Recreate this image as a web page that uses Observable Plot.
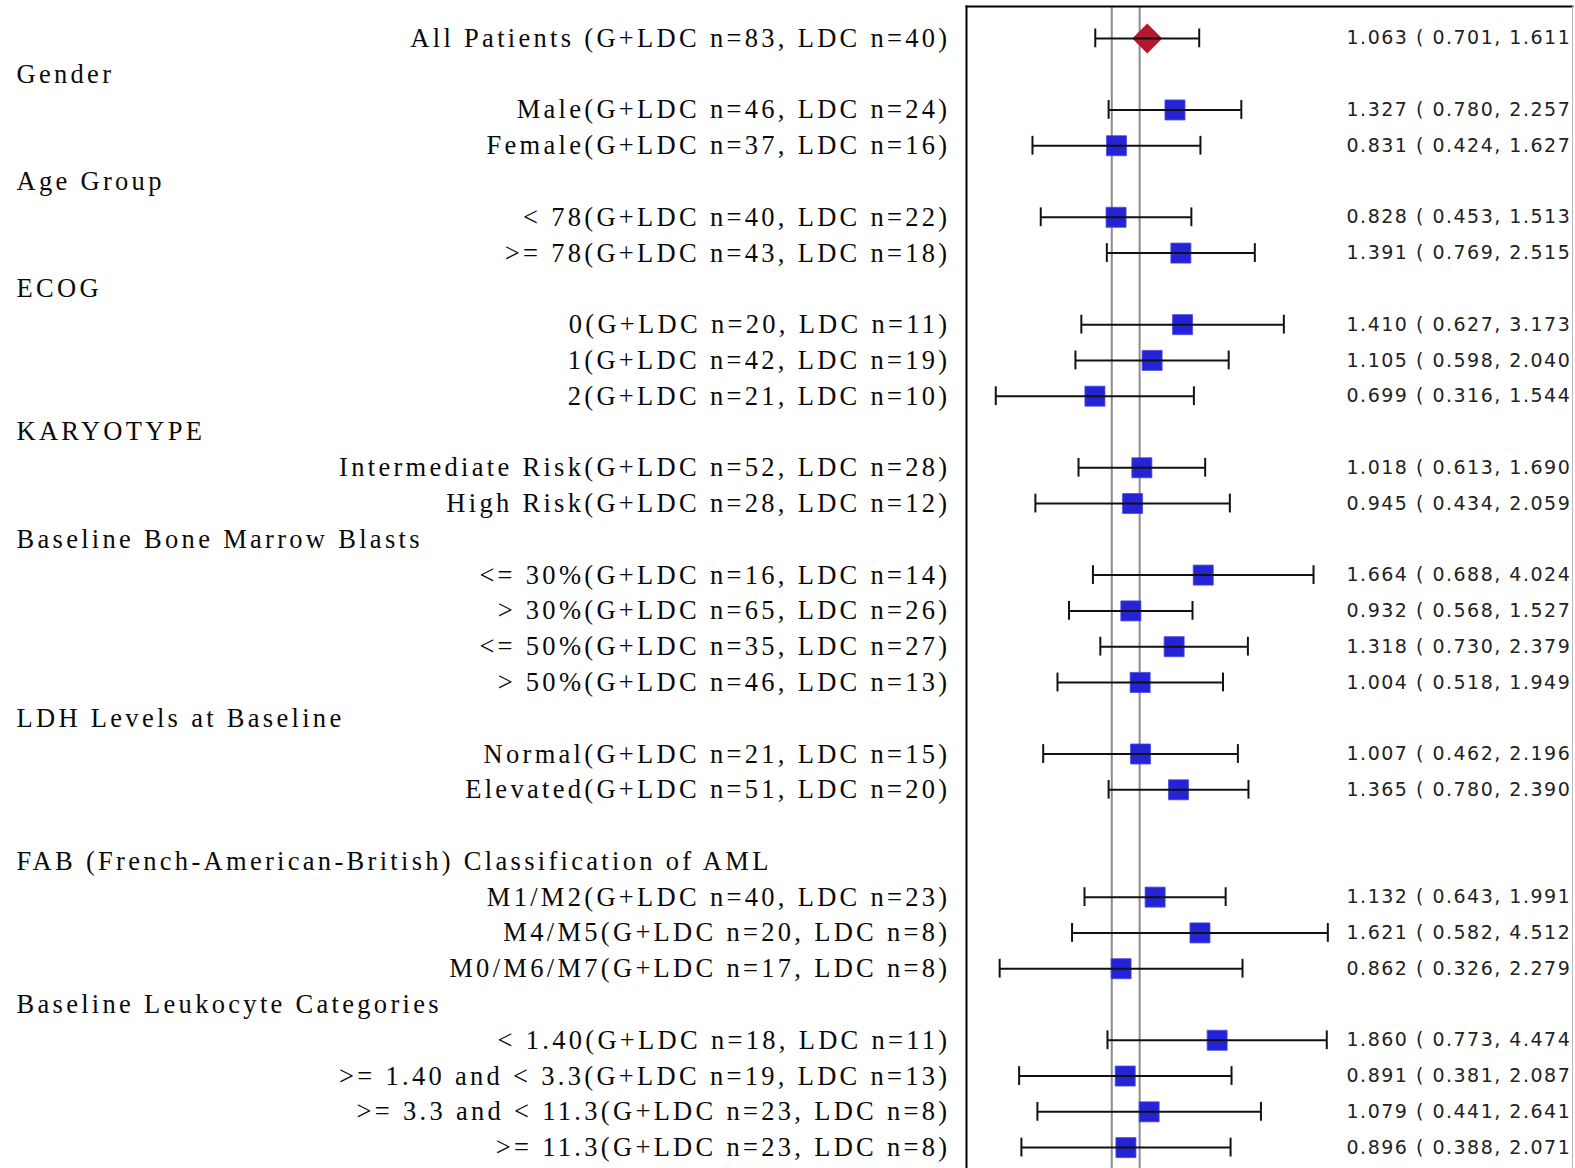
<!DOCTYPE html>
<html>
<head>
<meta charset="utf-8">
<script src="https://cdn.jsdelivr.net/npm/d3@7"></script>
<script src="https://cdn.jsdelivr.net/npm/@observablehq/plot@0.6"></script>
<style>
  html, body { margin: 0; padding: 0; background: #fff; overflow: hidden; }
  g.serif-text text { font-family: "Liberation Serif", "Times New Roman", "DejaVu Serif", serif; letter-spacing: 3.3px; }
  g.sans-text text { font-family: "DejaVu Sans", Verdana, sans-serif; letter-spacing: 1.5px; }
</style>
</head>
<body>
<div id="chart"></div>
<script>
// ---- data ----
const rowLabels = [
  "All Patients (G+LDC n=83, LDC n=40)",
  "Gender",
  "Male(G+LDC n=46, LDC n=24)",
  "Female(G+LDC n=37, LDC n=16)",
  "Age Group",
  "< 78(G+LDC n=40, LDC n=22)",
  ">= 78(G+LDC n=43, LDC n=18)",
  "ECOG",
  "0(G+LDC n=20, LDC n=11)",
  "1(G+LDC n=42, LDC n=19)",
  "2(G+LDC n=21, LDC n=10)",
  "KARYOTYPE",
  "Intermediate Risk(G+LDC n=52, LDC n=28)",
  "High Risk(G+LDC n=28, LDC n=12)",
  "Baseline Bone Marrow Blasts",
  "<= 30%(G+LDC n=16, LDC n=14)",
  "> 30%(G+LDC n=65, LDC n=26)",
  "<= 50%(G+LDC n=35, LDC n=27)",
  "> 50%(G+LDC n=46, LDC n=13)",
  "LDH Levels at Baseline",
  "Normal(G+LDC n=21, LDC n=15)",
  "Elevated(G+LDC n=51, LDC n=20)",
  "",
  "FAB (French-American-British) Classification of AML",
  "M1/M2(G+LDC n=40, LDC n=23)",
  "M4/M5(G+LDC n=20, LDC n=8)",
  "M0/M6/M7(G+LDC n=17, LDC n=8)",
  "Baseline Leukocyte Categories",
  "< 1.40(G+LDC n=18, LDC n=11)",
  ">= 1.40 and < 3.3(G+LDC n=19, LDC n=13)",
  ">= 3.3 and < 11.3(G+LDC n=23, LDC n=8)",
  ">= 11.3(G+LDC n=23, LDC n=8)"
];
const rowKinds = [
  "overall", "header", "item", "item", "header", "item", "item",
  "header", "item", "item", "item", "header", "item", "item",
  "header", "item", "item", "item", "item", "header", "item", "item",
  "blank", "header", "item", "item", "item", "header", "item", "item", "item", "item"
];
const hazardRatio = [
  1.063, null, 1.327, 0.831, null, 0.828, 1.391,
  null, 1.410, 1.105, 0.699, null, 1.018, 0.945,
  null, 1.664, 0.932, 1.318, 1.004, null, 1.007, 1.365,
  null, null, 1.132, 1.621, 0.862, null, 1.860, 0.891, 1.079, 0.896
];
const ciLower = [
  0.701, null, 0.780, 0.424, null, 0.453, 0.769,
  null, 0.627, 0.598, 0.316, null, 0.613, 0.434,
  null, 0.688, 0.568, 0.730, 0.518, null, 0.462, 0.780,
  null, null, 0.643, 0.582, 0.326, null, 0.773, 0.381, 0.441, 0.388
];
const ciUpper = [
  1.611, null, 2.257, 1.627, null, 1.513, 2.515,
  null, 3.173, 2.040, 1.544, null, 1.690, 2.059,
  null, 4.024, 1.527, 2.379, 1.949, null, 2.196, 2.390,
  null, null, 1.991, 4.512, 2.279, null, 4.474, 2.087, 2.641, 2.071
];
const referenceLines = [0.8, 1];
const xDomain = [0.25, 32];

// ---- build ----
const rows = rowLabels.map((label, i) => ({
  i, label, kind: rowKinds[i], hr: hazardRatio[i], lo: ciLower[i], hi: ciUpper[i]
}));
const est = rows.filter(d => d.hr != null);
const overall = est.filter(d => d.kind === "overall");
const items = est.filter(d => d.kind === "item");
const headers = rows.filter(d => d.kind === "header");
const fmt = d3.format(".3f");

const serif = "Liberation Serif";
const sans = "DejaVu Sans";

const chart = Plot.plot({
  width: 1575,
  height: 1168,
  marginLeft: 966,
  marginRight: 3,
  marginTop: 6,
  marginBottom: 0,
  style: {background: "#fff"},
  x: {type: "log", domain: xDomain, axis: null},
  y: {type: "band", domain: d3.range(rows.length), range: [20, 1165], padding: 0, round: false, axis: null},
  marks: [
    Plot.ruleX(referenceLines, {stroke: "#8c8c8c", strokeWidth: 2}),
    Plot.dot(items, {x: "hr", y: "i", symbol: "square", r: 11.3, fill: "#2424d6", stroke: "#4a4ae6", strokeWidth: 0.8}),
    Plot.dot(overall, {x: "hr", y: "i", symbol: "diamond2", r: 13.5, fill: "#b3182d"}),
    Plot.ruleY(est, {y: "i", x1: "lo", x2: "hi", stroke: "#111", strokeWidth: 2}),
    Plot.tickX(est, {x: "lo", y: "i", stroke: "#111", strokeWidth: 2, insetTop: 8.5, insetBottom: 8.5}),
    Plot.tickX(est, {x: "hi", y: "i", stroke: "#111", strokeWidth: 2, insetTop: 8.5, insetBottom: 8.5}),
    Plot.text(est, {y: "i", text: d => `${fmt(d.hr)} ( ${fmt(d.lo)}, ${fmt(d.hi)}`, frameAnchor: "left", textAnchor: "start", dx: 380, fontFamily: sans, fontSize: 19, fill: "#222", className: "sans-text"}),
    Plot.text(est, {y: "i", text: "label", frameAnchor: "left", textAnchor: "end", dx: -16, fontFamily: serif, fontSize: 26.5, fill: "#0a0a0a", className: "serif-text"}),
    Plot.text(headers, {y: "i", text: "label", frameAnchor: "left", textAnchor: "start", dx: -950, fontFamily: serif, fontSize: 26.5, fill: "#0a0a0a", className: "serif-text"}),
    Plot.frame({anchor: "left", stroke: "#000", strokeWidth: 2}),
    Plot.frame({anchor: "top", stroke: "#000", strokeWidth: 2}),
    Plot.frame({anchor: "right", stroke: "#bbb", strokeWidth: 1})
  ]
});
// tag text groups by family (fallback if className is unsupported)
d3.select(chart).selectAll("g[font-family]").each(function () {
  const f = this.getAttribute("font-family");
  if (f === serif) this.classList.add("serif-text");
  if (f === sans) this.classList.add("sans-text");
});
document.getElementById("chart").appendChild(chart);
</script>
</body>
</html>
